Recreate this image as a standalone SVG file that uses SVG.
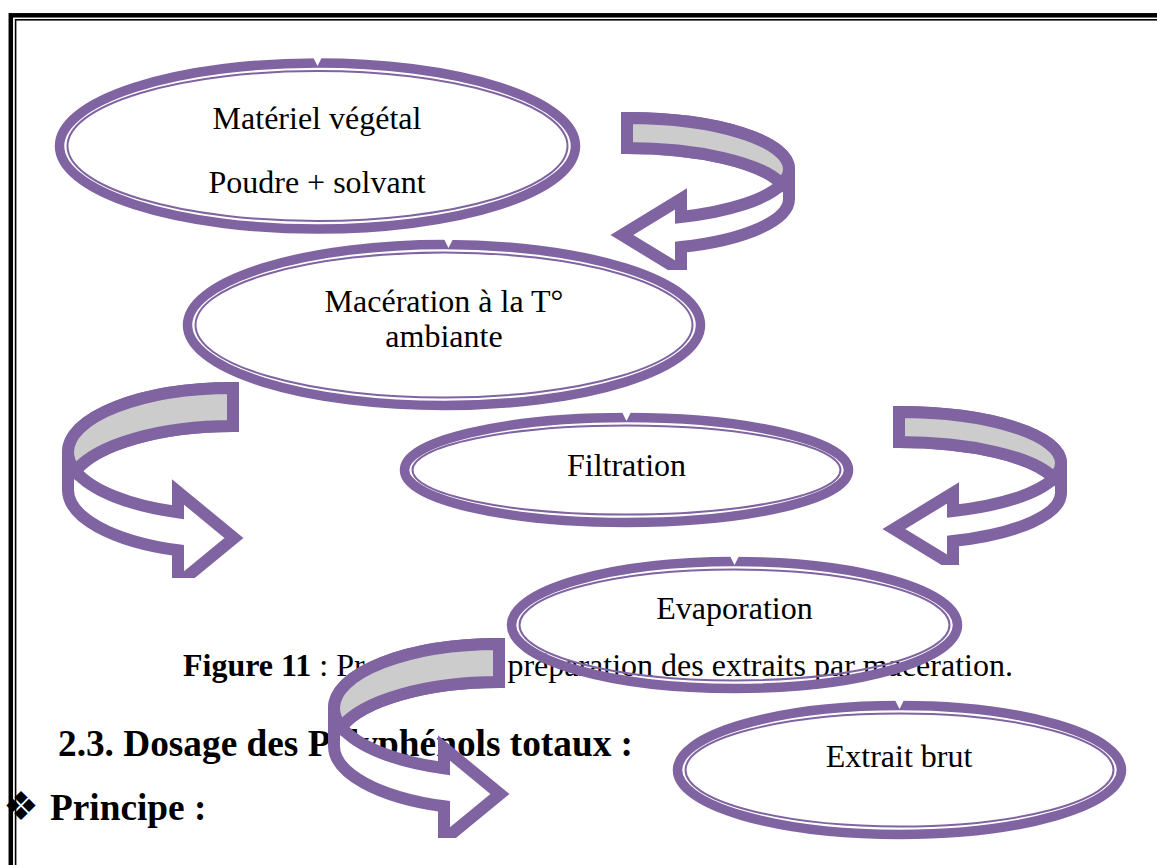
<svg xmlns="http://www.w3.org/2000/svg" width="1157" height="865" viewBox="0 0 1157 865">
  <style>
    .thick { fill: none; stroke: #8064A2; stroke-width: 9.5; }
    .thin { fill: none; stroke: #8064A2; stroke-width: 2; }
    .arr { fill: #FFFFFF; stroke: #8064A2; stroke-width: 12; stroke-linejoin: miter; stroke-miterlimit: 10; }
    .back { fill: #CCCCCC; stroke: #8064A2; stroke-width: 12; stroke-linejoin: miter; stroke-miterlimit: 10; }
    .notch { fill: #FFFFFF; stroke: none; }
    .t { font-family: "Liberation Serif", "Times New Roman", serif; font-size: 32px; fill: #000000; text-anchor: middle; }
    .cap { font-family: "Liberation Serif", "Times New Roman", serif; font-size: 32px; fill: #000000; }
    .h { font-family: "Liberation Serif", "Times New Roman", serif; font-size: 37.3px; font-weight: bold; fill: #000000; }
  </style>
  <defs>
    <path id="arrowRightOutline" d="M233,388 A165,64 0 0 0 68,452 L68,490 A165,64 0 0 0 178,550.3 L178,584 L234,538 L178,492 L178,512.3 A165,64 0 0 1 75.4,471 A165,64 0 0 1 233,426 Z"/>
    <path id="arrowRightBack" d="M233,388 A165,64 0 0 0 68,452 A165,64 0 0 0 75.4,471 A165,64 0 0 1 233,426 Z"/>
    <path id="arrowLeftOutline" d="M627,118 A162,51 0 0 1 789,169 L789,199 A162,51 0 0 1 681,247 L681,271 L622,235 L681,199 L681,217 A162,51 0 0 0 781.9,184 A162,51 0 0 0 627,148 Z"/>
    <path id="arrowLeftBack" d="M627,118 A162,51 0 0 1 789,169 A162,51 0 0 1 781.9,184 A162,51 0 0 0 627,148 Z"/>
    <clipPath id="clipA" clipPathUnits="userSpaceOnUse"><rect x="0" y="0" width="1157" height="270"/></clipPath>
    <clipPath id="clipB" clipPathUnits="userSpaceOnUse"><rect x="0" y="0" width="1157" height="578"/></clipPath>
    <clipPath id="clipC" clipPathUnits="userSpaceOnUse"><rect x="0" y="0" width="1157" height="565"/></clipPath>
    <clipPath id="clipD" clipPathUnits="userSpaceOnUse"><rect x="0" y="0" width="1157" height="838"/></clipPath>
  </defs>

  <rect width="1157" height="865" fill="#FFFFFF"/>

  <!-- page border -->
  <g id="page-border">
    <rect x="10.8" y="15.3" width="1200" height="900" fill="none" stroke="#000000" stroke-width="4.5"/>
    <rect x="15.6" y="19.8" width="1200" height="900" fill="none" stroke="#000000" stroke-width="1.6"/>
  </g>

  <!-- document text under the diagram -->
  <g id="document-text">
    <text class="cap" x="183" y="676"><tspan font-weight="bold">Figure 11</tspan> : Pr</text>
    <text class="cap" x="507.4" y="676">préparation des extraits par macération.</text>
    <text class="h" x="58" y="756">2.3. Dosage des Polyphénols totaux :</text>
    <text x="21" y="820" font-family="DejaVu Sans, sans-serif" font-size="40" text-anchor="middle" fill="#000000">❖</text>
    <text class="h" x="50" y="820">Principe :</text>
  </g>

  <!-- nodes -->
  <g id="node-materiel">
    <ellipse class="thick" cx="317.5" cy="146" rx="258" ry="83"/>
    <ellipse class="thin" cx="317.5" cy="146" rx="250" ry="75"/>
    <path class="notch" d="M313,57 L322,57 L317.5,66 Z"/>
    <text class="t" x="317" y="128.5">Matériel végétal</text>
    <text class="t" x="317" y="192.5">Poudre + solvant</text>
  </g>
  <g id="node-maceration">
    <ellipse class="thick" cx="444" cy="325" rx="256.5" ry="80.5"/>
    <ellipse class="thin" cx="444" cy="325" rx="248.5" ry="72.5"/>
    <path class="notch" d="M444,239 L453,239 L448.5,248 Z"/>
    <text class="t" x="444" y="312">Macération à la T°</text>
    <text class="t" x="444" y="347">ambiante</text>
  </g>
  <g id="node-filtration">
    <ellipse class="thick" cx="626.5" cy="470" rx="222" ry="52.5"/>
    <ellipse class="thin" cx="626.5" cy="470" rx="214" ry="44.5"/>
    <path class="notch" d="M622,412 L631,412 L626.5,421 Z"/>
    <text class="t" x="626.5" y="476">Filtration</text>
  </g>
  <g id="node-evaporation">
    <ellipse class="thick" cx="734.5" cy="625" rx="223" ry="63.5"/>
    <ellipse class="thin" cx="734.5" cy="625" rx="215" ry="55.5"/>
    <path class="notch" d="M730,556 L739,556 L734.5,565 Z"/>
    <text class="t" x="734.5" y="619">Evaporation</text>
  </g>
  <g id="node-extrait">
    <ellipse class="thick" cx="899.5" cy="770" rx="222" ry="64.5"/>
    <ellipse class="thin" cx="899.5" cy="770" rx="214" ry="56.5"/>
    <path class="notch" d="M895,700 L904,700 L899.5,709 Z"/>
    <text class="t" x="899" y="767">Extrait brut</text>
  </g>

  <!-- connectors: curved 3D arrows -->
  <g id="connectors">
    <g id="arrow-1" clip-path="url(#clipA)">
      <use href="#arrowLeftOutline" class="arr"/>
      <use href="#arrowLeftBack" class="back"/>
    </g>
    <g id="arrow-2" clip-path="url(#clipB)">
      <use href="#arrowRightOutline" class="arr"/>
      <use href="#arrowRightBack" class="back"/>
    </g>
    <g id="arrow-3" clip-path="url(#clipC)">
      <g transform="translate(272,294)">
        <use href="#arrowLeftOutline" class="arr"/>
        <use href="#arrowLeftBack" class="back"/>
      </g>
    </g>
    <g id="arrow-4" clip-path="url(#clipD)">
      <g transform="translate(266,256)">
        <use href="#arrowRightOutline" class="arr"/>
        <use href="#arrowRightBack" class="back"/>
      </g>
    </g>
  </g>
</svg>
